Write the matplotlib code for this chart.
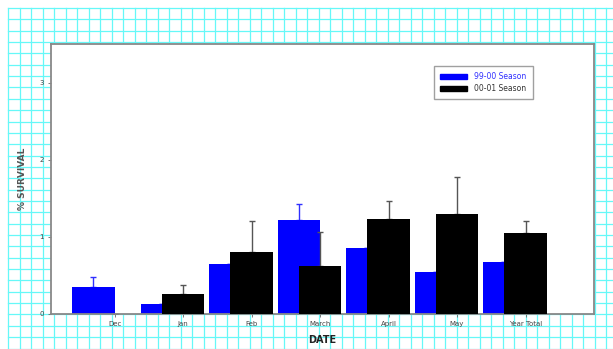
import numpy as np
import matplotlib
matplotlib.use("Agg")
import matplotlib.pyplot as plt
from matplotlib.patches import Patch

# survival data
months = ["Dec", "Jan", "Feb", "March", "April", "May", "Year Total"]
season_99 = [0.35, 0.13, 0.65, 1.22, 0.85, 0.54, 0.67]
err_99 = [0.13, 0.0, 0.0, 0.20, 0.0, 0.0, 0.0]
season_00 = [0.0, 0.26, 0.81, 0.62, 1.23, 1.29, 1.05]
err_00 = [0.0, 0.11, 0.39, 0.44, 0.24, 0.49, 0.15]
labels = ["99-00 Season", "00-01 Season"]

W, H = 613, 349
fig = plt.figure(figsize=(W / 100, H / 100), dpi=100)

# graph paper background
bg = fig.add_axes([0, 0, 1, 1])
bg.set_xlim(0, W)
bg.set_ylim(H, 0)
bg.axis("off")
for gx in np.arange(8, W + 1, 11.5):
    bg.plot([gx, gx], [8, H], color="#66f8f8", lw=0.9)
for gy in np.arange(8, H + 1, 11.35):
    bg.plot([8, W], [gy, gy], color="#66f8f8", lw=0.9)

ax = fig.add_axes([51 / W, 1 - 314 / H, (594 - 51) / W, (314 - 44) / H])
ax.set_facecolor("white")

x = np.arange(len(months))
bw = 0.62
off = 0.31

ax.bar(x - off, season_99, bw, color="#0000ff", zorder=2)
ax.errorbar(x - off, season_99, yerr=[np.zeros(len(x)), err_99], fmt="none",
            ecolor="#3030ff", elinewidth=1, capsize=2, zorder=1)
ax.bar(x, season_00, bw, color="black", zorder=3)
ax.errorbar(x, season_00, yerr=[np.zeros(len(x)), err_00], fmt="none",
            ecolor="#555555", elinewidth=1, capsize=2, zorder=2.5)

ax.set_xlim(-0.93, 7.0)
ax.set_ylim(0, 3.5)
ax.set_xticks(x)
ax.set_xticklabels(months, fontsize=5, color="#444444")
ax.set_yticks([0, 1, 2, 3])
ax.set_yticklabels(["0", "1", "2", "3"], fontsize=5, color="#444444")
ax.tick_params(length=2, width=0.6, colors="#666666", labelcolor="#444444", pad=3)
for s in ax.spines.values():
    s.set_color("#888888")
    s.set_linewidth(1.3)

ax.set_ylabel("% SURVIVAL", fontsize=6.5, fontweight="bold", color="#555555", labelpad=9)
ax.set_xlabel("DATE", fontsize=7, fontweight="bold", color="#222222", labelpad=6)

handles = [Patch(color="#0000ff"), Patch(color="black")]
leg = ax.legend(handles, labels, loc="upper left", bbox_to_anchor=(0.705, 0.918),
                fontsize=5.5, frameon=True, fancybox=False, handlelength=3.6,
                handleheight=0.55, borderpad=0.8, labelspacing=0.35,
                handletextpad=0.9, borderaxespad=0)
leg.get_frame().set_edgecolor("#888888")
leg.get_frame().set_linewidth(1.0)
leg.get_texts()[0].set_color("#3030ff")
leg.get_texts()[1].set_color("#333333")

fig.savefig("out.png", dpi=100)
